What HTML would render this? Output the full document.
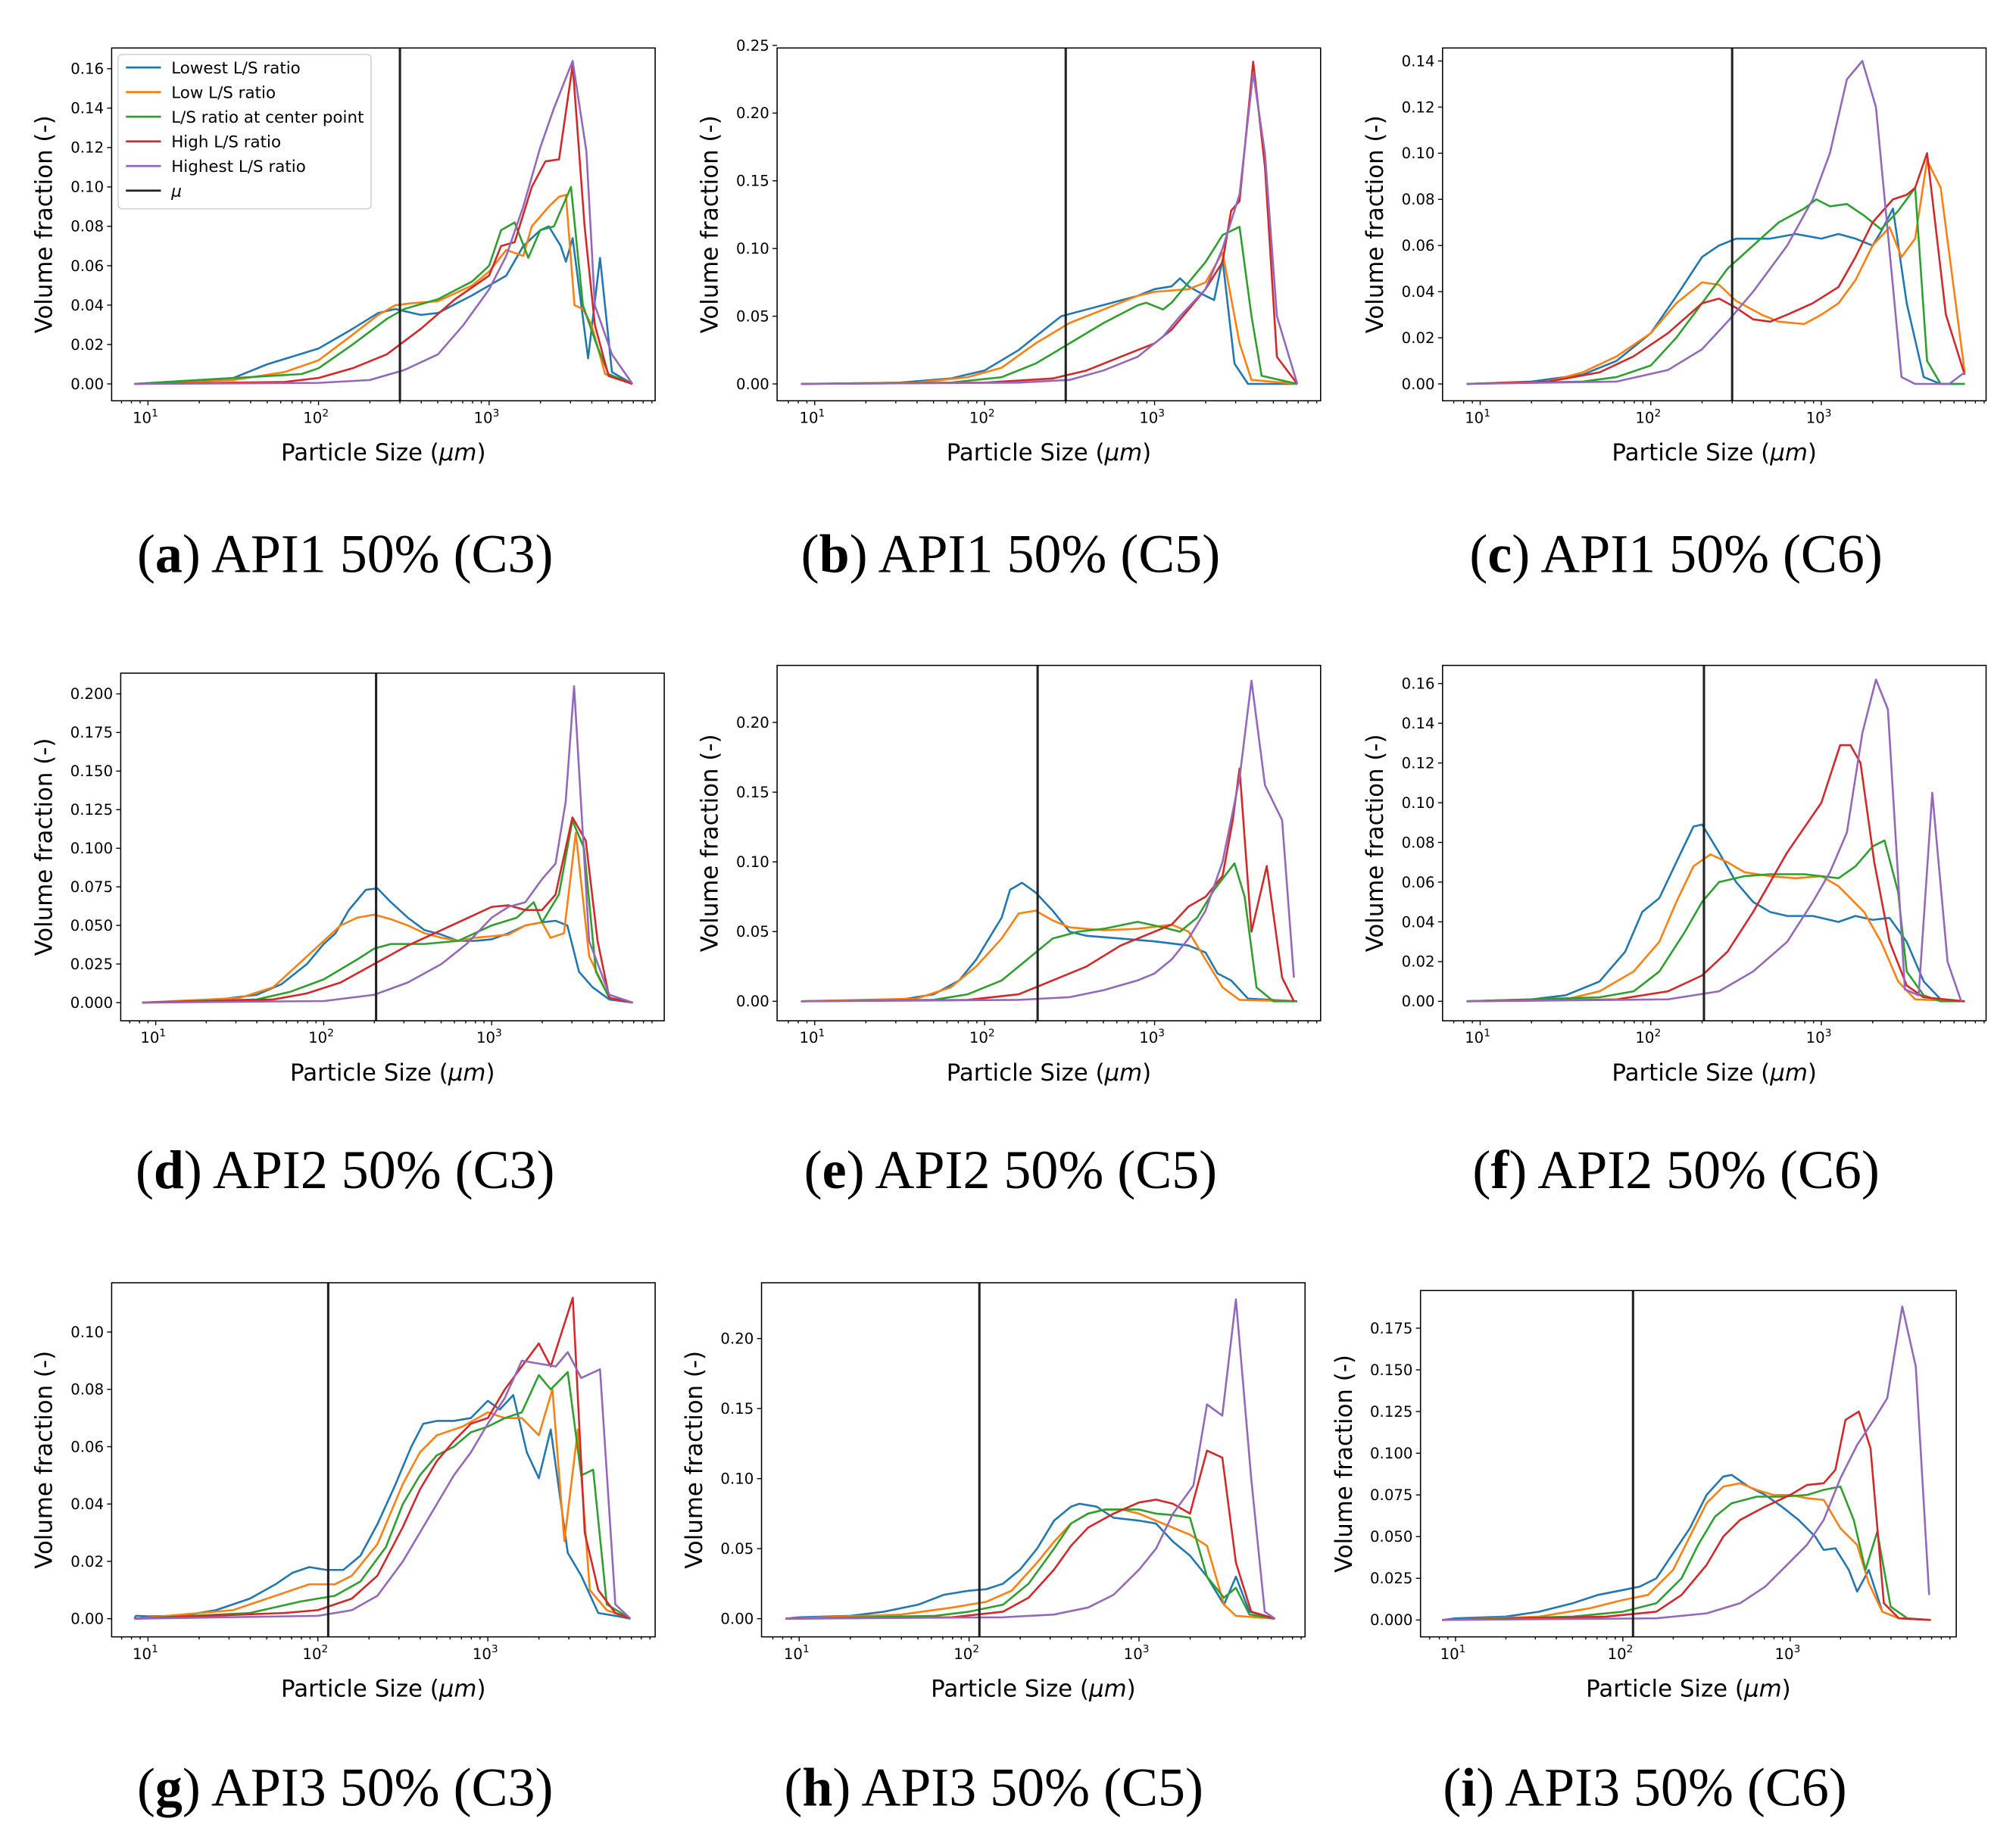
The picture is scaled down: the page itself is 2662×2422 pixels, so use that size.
<!DOCTYPE html>
<html><head><meta charset="utf-8"><style>
html,body{margin:0;padding:0;background:#fff}
svg{display:block}
</style></head><body>
<svg id="fig" xmlns="http://www.w3.org/2000/svg" width="2662" height="2422" viewBox="0 0 1554 1414">
<rect width="1554" height="1414" fill="#fff"/>
</svg>
<script>
// Data: [log10(particle size in µm), volume fraction]
const seriesNames=['Lowest L/S ratio','Low L/S ratio','L/S ratio at center point','High L/S ratio','Highest L/S ratio'];
const muValues={a:300,b:300,c:300,d:205,e:205,f:205,g:115,h:115,i:115};
const captionLetters=['a','b','c','d','e','f','g','h','i'];
const captionTexts=['API1 50% (C3)','API1 50% (C5)','API1 50% (C6)','API2 50% (C3)','API2 50% (C5)','API2 50% (C6)','API3 50% (C3)','API3 50% (C5)','API3 50% (C6)'];
const yTicksA=[0,0.02,0.04,0.06,0.08,0.10,0.12,0.14,0.16];
const yTicksB=[0,0.05,0.10,0.15,0.20,0.25];
const yTicksC=[0,0.02,0.04,0.06,0.08,0.10,0.12,0.14];
const yTicksD=[0,0.025,0.05,0.075,0.1,0.125,0.15,0.175,0.2];
const yTicksE=[0,0.05,0.10,0.15,0.20];
const yTicksF=[0,0.02,0.04,0.06,0.08,0.10,0.12,0.14,0.16];
const yTicksG=[0,0.02,0.04,0.06,0.08,0.10];
const yTicksH=[0,0.05,0.10,0.15,0.20];
const yTicksI=[0,0.025,0.05,0.075,0.1,0.125,0.15,0.175];
const xTickExps=[1,2,3];

const a_blue=[[1.5,0.003],[1.7,0.01],[2.0,0.018],[2.2,0.028],[2.35,0.036],[2.45,0.038],[2.6,0.035],[2.7,0.036],[2.9,0.045],[3.1,0.055],[3.2,0.07],[3.3,0.078],[3.35,0.08],[3.42,0.07],[3.45,0.062],[3.49,0.074],[3.58,0.013],[3.65,0.064],[3.72,0.006],[3.84,0]];
const a_orange=[[1.5,0.002],[1.8,0.006],[2.0,0.012],[2.2,0.025],[2.35,0.035],[2.45,0.04],[2.55,0.041],[2.7,0.042],[2.9,0.05],[3.0,0.057],[3.1,0.068],[3.2,0.065],[3.25,0.08],[3.35,0.09],[3.41,0.095],[3.45,0.096],[3.5,0.04],[3.55,0.038],[3.6,0.03],[3.68,0.005],[3.84,0]];
const a_green=[[1.9,0.005],[2.0,0.008],[2.2,0.02],[2.4,0.033],[2.5,0.038],[2.7,0.043],[2.9,0.052],[3.0,0.06],[3.07,0.078],[3.15,0.082],[3.23,0.064],[3.3,0.078],[3.38,0.08],[3.48,0.1],[3.55,0.04],[3.63,0.02],[3.7,0.005],[3.84,0]];
const a_red=[[1.8,0.001],[2.0,0.003],[2.2,0.008],[2.4,0.015],[2.6,0.028],[2.8,0.043],[3.0,0.055],[3.07,0.07],[3.15,0.072],[3.25,0.1],[3.33,0.113],[3.41,0.114],[3.49,0.162],[3.56,0.08],[3.62,0.03],[3.7,0.004],[3.84,0]];
const a_purple=[[2.0,0.0005],[2.3,0.002],[2.5,0.007],[2.7,0.015],[2.85,0.03],[3.0,0.048],[3.1,0.065],[3.2,0.09],[3.3,0.12],[3.38,0.14],[3.49,0.164],[3.57,0.118],[3.62,0.04],[3.72,0.015],[3.84,0]];

const b_blue=[[1.5,0.001],[1.8,0.004],[2.0,0.01],[2.2,0.025],[2.35,0.04],[2.45,0.05],[2.6,0.055],[2.75,0.06],[2.9,0.065],[3.0,0.07],[3.1,0.072],[3.15,0.078],[3.2,0.072],[3.3,0.065],[3.35,0.062],[3.4,0.092],[3.47,0.015],[3.55,0],[3.84,0]];
const b_orange=[[1.6,0.001],[1.9,0.005],[2.1,0.012],[2.3,0.03],[2.5,0.045],[2.7,0.055],[2.9,0.065],[3.0,0.068],[3.2,0.07],[3.3,0.075],[3.4,0.097],[3.5,0.03],[3.57,0.003],[3.84,0]];
const b_green=[[1.8,0.001],[2.1,0.005],[2.3,0.015],[2.5,0.03],[2.7,0.045],[2.9,0.058],[2.95,0.06],[3.05,0.055],[3.1,0.06],[3.2,0.075],[3.3,0.09],[3.35,0.1],[3.4,0.11],[3.5,0.116],[3.57,0.05],[3.63,0.006],[3.84,0]];
const b_red=[[2.0,0.001],[2.4,0.004],[2.6,0.01],[2.8,0.02],[3.0,0.03],[3.1,0.04],[3.2,0.055],[3.3,0.07],[3.4,0.09],[3.45,0.128],[3.5,0.135],[3.58,0.238],[3.65,0.16],[3.72,0.02],[3.84,0]];
const b_purple=[[2.2,0.001],[2.5,0.003],[2.7,0.01],[2.9,0.02],[3.05,0.035],[3.15,0.05],[3.3,0.07],[3.4,0.1],[3.5,0.14],[3.58,0.23],[3.65,0.17],[3.72,0.05],[3.84,0]];

const c_blue=[[1.3,0.001],[1.6,0.004],[1.8,0.01],[2.0,0.022],[2.15,0.038],[2.3,0.055],[2.4,0.06],[2.5,0.063],[2.6,0.063],[2.7,0.063],[2.85,0.065],[3.0,0.063],[3.1,0.065],[3.2,0.063],[3.3,0.06],[3.35,0.066],[3.42,0.076],[3.5,0.035],[3.6,0.003],[3.7,0],[3.84,0]];
const c_orange=[[1.4,0.001],[1.6,0.005],[1.8,0.012],[2.0,0.022],[2.15,0.035],[2.3,0.044],[2.4,0.043],[2.5,0.036],[2.65,0.03],[2.75,0.027],[2.9,0.026],[3.0,0.03],[3.1,0.035],[3.2,0.045],[3.3,0.06],[3.4,0.068],[3.47,0.055],[3.55,0.063],[3.62,0.097],[3.7,0.085],[3.84,0.005]];
const c_green=[[1.6,0.001],[1.8,0.003],[2.0,0.008],[2.15,0.02],[2.3,0.035],[2.45,0.05],[2.6,0.06],[2.75,0.07],[2.9,0.076],[2.97,0.08],[3.05,0.077],[3.15,0.078],[3.25,0.073],[3.35,0.067],[3.45,0.075],[3.55,0.085],[3.62,0.01],[3.7,0],[3.84,0]];
const c_red=[[1.4,0.001],[1.7,0.005],[1.9,0.012],[2.1,0.022],[2.3,0.035],[2.4,0.037],[2.5,0.033],[2.6,0.028],[2.7,0.027],[2.8,0.03],[2.95,0.035],[3.1,0.042],[3.2,0.055],[3.3,0.07],[3.42,0.08],[3.5,0.082],[3.55,0.085],[3.62,0.1],[3.73,0.03],[3.84,0.004]];
const c_purple=[[1.8,0.001],[2.1,0.006],[2.3,0.015],[2.45,0.027],[2.6,0.04],[2.8,0.06],[2.95,0.08],[3.05,0.1],[3.15,0.132],[3.24,0.14],[3.32,0.12],[3.47,0.003],[3.55,0],[3.75,0],[3.84,0.005]];

const d_blue=[[1.3,0.001],[1.6,0.005],[1.75,0.012],[1.9,0.025],[2.0,0.038],[2.07,0.045],[2.15,0.06],[2.25,0.073],[2.32,0.074],[2.4,0.065],[2.5,0.055],[2.6,0.047],[2.7,0.044],[2.8,0.04],[2.9,0.04],[3.0,0.041],[3.1,0.045],[3.2,0.05],[3.3,0.052],[3.38,0.053],[3.45,0.05],[3.52,0.02],[3.6,0.01],[3.7,0.002],[3.84,0]];
const d_orange=[[1.5,0.003],[1.7,0.01],[1.85,0.025],[2.0,0.04],[2.1,0.05],[2.2,0.055],[2.3,0.057],[2.4,0.054],[2.5,0.05],[2.6,0.045],[2.7,0.042],[2.8,0.04],[2.9,0.042],[3.0,0.043],[3.1,0.044],[3.2,0.05],[3.3,0.052],[3.35,0.042],[3.43,0.045],[3.5,0.11],[3.58,0.03],[3.7,0.003],[3.84,0]];
const d_green=[[1.6,0.002],[1.8,0.007],[2.0,0.015],[2.2,0.028],[2.3,0.035],[2.4,0.038],[2.6,0.038],[2.8,0.04],[2.9,0.045],[3.0,0.05],[3.15,0.055],[3.25,0.065],[3.3,0.052],[3.4,0.07],[3.48,0.118],[3.55,0.1],[3.62,0.02],[3.7,0.003],[3.84,0]];
const d_red=[[1.7,0.002],[1.9,0.006],[2.1,0.013],[2.3,0.025],[2.5,0.037],[2.7,0.047],[2.9,0.057],[3.0,0.062],[3.1,0.063],[3.2,0.06],[3.3,0.06],[3.38,0.07],[3.44,0.1],[3.48,0.12],[3.56,0.105],[3.63,0.04],[3.7,0.003],[3.84,0]];
const d_purple=[[2.0,0.001],[2.3,0.005],[2.5,0.013],[2.7,0.025],[2.85,0.038],[3.0,0.055],[3.1,0.062],[3.2,0.065],[3.3,0.08],[3.38,0.09],[3.44,0.13],[3.49,0.205],[3.58,0.04],[3.7,0.005],[3.84,0]];

const e_blue=[[1.5,0.001],[1.7,0.005],[1.85,0.015],[1.95,0.03],[2.0,0.04],[2.1,0.06],[2.15,0.08],[2.22,0.085],[2.3,0.078],[2.4,0.065],[2.5,0.05],[2.6,0.047],[2.8,0.045],[3.0,0.043],[3.2,0.04],[3.3,0.035],[3.37,0.02],[3.45,0.015],[3.55,0.002],[3.84,0]];
const e_orange=[[1.6,0.002],[1.8,0.01],[1.95,0.025],[2.1,0.045],[2.2,0.063],[2.3,0.065],[2.4,0.058],[2.5,0.053],[2.7,0.051],[2.9,0.052],[3.1,0.055],[3.2,0.05],[3.3,0.03],[3.4,0.01],[3.5,0.001],[3.84,0]];
const e_green=[[1.7,0.001],[1.9,0.005],[2.1,0.015],[2.25,0.03],[2.4,0.045],[2.55,0.05],[2.7,0.052],[2.9,0.057],[3.05,0.053],[3.15,0.05],[3.25,0.06],[3.35,0.08],[3.47,0.099],[3.53,0.075],[3.6,0.01],[3.7,0],[3.84,0]];
const e_red=[[1.9,0.001],[2.2,0.005],[2.4,0.015],[2.6,0.025],[2.8,0.04],[3.0,0.05],[3.1,0.055],[3.2,0.068],[3.3,0.075],[3.4,0.09],[3.46,0.13],[3.5,0.167],[3.57,0.05],[3.66,0.097],[3.75,0.017],[3.82,0]];
const e_purple=[[2.2,0.001],[2.5,0.003],[2.7,0.008],[2.9,0.015],[3.0,0.02],[3.1,0.03],[3.2,0.045],[3.3,0.065],[3.4,0.1],[3.5,0.16],[3.57,0.23],[3.65,0.155],[3.75,0.13],[3.82,0.017]];

const f_blue=[[1.3,0.001],[1.5,0.003],[1.7,0.01],[1.85,0.025],[1.95,0.045],[2.05,0.052],[2.15,0.07],[2.25,0.088],[2.3,0.089],[2.4,0.075],[2.5,0.06],[2.6,0.05],[2.7,0.045],[2.8,0.043],[2.95,0.043],[3.1,0.04],[3.2,0.043],[3.3,0.041],[3.4,0.042],[3.5,0.03],[3.6,0.01],[3.7,0.001],[3.84,0]];
const f_orange=[[1.5,0.001],[1.7,0.005],[1.9,0.015],[2.05,0.03],[2.15,0.05],[2.25,0.068],[2.35,0.074],[2.45,0.07],[2.55,0.065],[2.7,0.063],[2.85,0.062],[3.0,0.063],[3.1,0.058],[3.25,0.045],[3.35,0.03],[3.45,0.01],[3.55,0.001],[3.84,0]];
const f_green=[[1.7,0.002],[1.9,0.005],[2.05,0.015],[2.2,0.035],[2.3,0.05],[2.4,0.06],[2.55,0.063],[2.7,0.064],[2.9,0.064],[3.1,0.062],[3.2,0.068],[3.3,0.078],[3.37,0.081],[3.45,0.055],[3.5,0.015],[3.6,0.003],[3.7,0],[3.84,0]];
const f_red=[[1.8,0.001],[2.1,0.005],[2.3,0.013],[2.45,0.025],[2.6,0.045],[2.8,0.075],[3.0,0.1],[3.11,0.129],[3.17,0.129],[3.23,0.12],[3.31,0.07],[3.4,0.03],[3.5,0.008],[3.6,0.002],[3.84,0]];
const f_purple=[[2.1,0.001],[2.4,0.005],[2.6,0.015],[2.8,0.03],[2.95,0.05],[3.05,0.065],[3.15,0.085],[3.24,0.135],[3.32,0.162],[3.39,0.147],[3.49,0.006],[3.57,0.003],[3.65,0.105],[3.74,0.02],[3.82,0]];

const g_blue=[[0.93,0.001],[1.0,0.0008],[1.2,0.001],[1.4,0.003],[1.6,0.007],[1.75,0.012],[1.85,0.016],[1.95,0.018],[2.05,0.017],[2.15,0.017],[2.25,0.022],[2.35,0.033],[2.45,0.046],[2.55,0.06],[2.62,0.068],[2.7,0.069],[2.8,0.069],[2.9,0.07],[3.0,0.076],[3.07,0.073],[3.15,0.078],[3.23,0.058],[3.3,0.049],[3.37,0.066],[3.47,0.023],[3.55,0.015],[3.65,0.002],[3.75,0.001],[3.84,0]];
const g_orange=[[1.5,0.003],[1.75,0.008],[1.95,0.012],[2.1,0.012],[2.2,0.015],[2.35,0.026],[2.5,0.047],[2.6,0.058],[2.7,0.064],[2.85,0.067],[3.0,0.072],[3.1,0.07],[3.2,0.07],[3.3,0.064],[3.38,0.08],[3.45,0.027],[3.53,0.066],[3.6,0.01],[3.7,0.003],[3.84,0]];
const g_green=[[1.6,0.002],[1.9,0.006],[2.1,0.008],[2.25,0.013],[2.4,0.025],[2.5,0.04],[2.6,0.05],[2.7,0.057],[2.8,0.06],[2.9,0.065],[3.0,0.067],[3.1,0.07],[3.2,0.072],[3.3,0.085],[3.37,0.08],[3.47,0.086],[3.55,0.05],[3.62,0.052],[3.7,0.005],[3.84,0]];
const g_red=[[1.8,0.002],[2.0,0.003],[2.2,0.007],[2.35,0.015],[2.5,0.032],[2.6,0.045],[2.7,0.055],[2.8,0.062],[2.9,0.068],[3.0,0.07],[3.1,0.08],[3.2,0.088],[3.3,0.096],[3.37,0.088],[3.5,0.112],[3.57,0.03],[3.65,0.01],[3.75,0.002],[3.84,0]];
const g_purple=[[2.0,0.001],[2.2,0.003],[2.35,0.008],[2.5,0.02],[2.6,0.03],[2.7,0.04],[2.8,0.05],[2.9,0.058],[3.0,0.068],[3.1,0.077],[3.2,0.09],[3.3,0.089],[3.4,0.088],[3.47,0.093],[3.55,0.084],[3.66,0.087],[3.75,0.005],[3.84,0]];

const h_blue=[[1.0,0.001],[1.3,0.002],[1.5,0.005],[1.7,0.01],[1.85,0.017],[2.0,0.02],[2.1,0.021],[2.2,0.025],[2.3,0.035],[2.4,0.05],[2.5,0.07],[2.6,0.08],[2.65,0.082],[2.75,0.08],[2.85,0.072],[3.0,0.07],[3.1,0.068],[3.2,0.055],[3.3,0.045],[3.4,0.03],[3.5,0.01],[3.57,0.03],[3.65,0.005],[3.8,0]];
const h_orange=[[1.6,0.003],[1.9,0.008],[2.1,0.012],[2.25,0.02],[2.4,0.04],[2.5,0.055],[2.6,0.068],[2.7,0.075],[2.8,0.078],[2.9,0.078],[3.0,0.075],[3.1,0.07],[3.2,0.065],[3.3,0.06],[3.4,0.052],[3.5,0.01],[3.57,0.002],[3.8,0]];
const h_green=[[1.8,0.002],[2.0,0.005],[2.2,0.01],[2.35,0.025],[2.5,0.05],[2.6,0.068],[2.7,0.075],[2.8,0.078],[3.0,0.078],[3.1,0.075],[3.2,0.074],[3.3,0.072],[3.4,0.03],[3.5,0.015],[3.57,0.022],[3.65,0.003],[3.8,0]];
const h_red=[[1.9,0.001],[2.2,0.005],[2.35,0.015],[2.5,0.035],[2.6,0.052],[2.7,0.065],[2.85,0.075],[3.0,0.083],[3.1,0.085],[3.2,0.082],[3.3,0.075],[3.4,0.12],[3.49,0.115],[3.57,0.04],[3.66,0.005],[3.8,0]];
const h_purple=[[2.2,0.001],[2.5,0.003],[2.7,0.008],[2.85,0.017],[3.0,0.035],[3.1,0.05],[3.2,0.075],[3.32,0.095],[3.4,0.153],[3.49,0.145],[3.57,0.228],[3.66,0.1],[3.74,0.005],[3.8,0]];

const i_blue=[[1.0,0.001],[1.3,0.002],[1.5,0.005],[1.7,0.01],[1.85,0.015],[2.0,0.018],[2.1,0.02],[2.2,0.025],[2.3,0.04],[2.4,0.055],[2.5,0.075],[2.6,0.086],[2.65,0.087],[2.75,0.08],[2.85,0.075],[2.95,0.068],[3.05,0.06],[3.15,0.05],[3.2,0.042],[3.27,0.043],[3.35,0.03],[3.4,0.017],[3.47,0.03],[3.55,0.005],[3.65,0.001],[3.84,0]];
const i_orange=[[1.5,0.002],[1.8,0.007],[2.0,0.012],[2.15,0.015],[2.3,0.03],[2.4,0.05],[2.5,0.07],[2.6,0.08],[2.7,0.082],[2.8,0.078],[2.9,0.075],[3.0,0.075],[3.1,0.073],[3.2,0.072],[3.3,0.055],[3.4,0.045],[3.47,0.022],[3.55,0.005],[3.65,0.001],[3.84,0]];
const i_green=[[1.7,0.002],[2.0,0.005],[2.2,0.01],[2.35,0.025],[2.45,0.045],[2.55,0.062],[2.65,0.07],[2.8,0.074],[2.95,0.074],[3.1,0.075],[3.2,0.078],[3.3,0.08],[3.38,0.06],[3.45,0.03],[3.52,0.053],[3.6,0.008],[3.7,0.001],[3.84,0]];
const i_red=[[1.9,0.002],[2.2,0.005],[2.35,0.015],[2.5,0.033],[2.6,0.05],[2.7,0.06],[2.85,0.068],[3.0,0.075],[3.1,0.081],[3.2,0.082],[3.27,0.09],[3.33,0.12],[3.41,0.125],[3.48,0.103],[3.56,0.01],[3.65,0.001],[3.84,0]];
const i_purple=[[2.2,0.001],[2.5,0.004],[2.7,0.01],[2.85,0.02],[3.0,0.035],[3.1,0.045],[3.2,0.06],[3.3,0.085],[3.4,0.105],[3.5,0.12],[3.58,0.133],[3.67,0.188],[3.75,0.152],[3.83,0.015]];

const panelSeries={a:[a_blue,a_orange,a_green,a_red,a_purple],b:[b_blue,b_orange,b_green,b_red,b_purple],c:[c_blue,c_orange,c_green,c_red,c_purple],d:[d_blue,d_orange,d_green,d_red,d_purple],e:[e_blue,e_orange,e_green,e_red,e_purple],f:[f_blue,f_orange,f_green,f_red,f_purple],g:[g_blue,g_orange,g_green,g_red,g_purple],h:[h_blue,h_orange,h_green,h_red,h_purple],i:[i_blue,i_orange,i_green,i_red,i_purple]};

// Layout (pixels in 1554x1414 space)
const COLORS=['#1f77b4','#ff7f0e','#2ca02c','#d62728','#9467bd'];
const layout={
 a:{box:[86,37,505,309],x1:114,dec:131.5,y0:296,yTopPx:53,yTopVal:0.16,ticks:yTicksA,dig:2,ytx:40,cap:[266,433]},
 b:{box:[599,37,1018,309],x1:628,dec:131,y0:296,yTopPx:35,yTopVal:0.25,ticks:yTicksB,dig:2,ytx:553,cap:[779,433]},
 c:{box:[1112,37,1531,309],x1:1141,dec:131.5,y0:296,yTopPx:47,yTopVal:0.14,ticks:yTicksC,dig:2,ytx:1066,cap:[1292,433]},
 d:{box:[93,519,512,787],x1:120,dec:129.5,y0:773,yTopPx:535,yTopVal:0.2,ticks:yTicksD,dig:3,ytx:40,cap:[266,908]},
 e:{box:[599,513,1018,787],x1:628,dec:131,y0:772,yTopPx:557,yTopVal:0.2,ticks:yTicksE,dig:2,ytx:553,cap:[779,908]},
 f:{box:[1112,513,1531,787],x1:1141,dec:131.5,y0:772,yTopPx:527,yTopVal:0.16,ticks:yTicksF,dig:2,ytx:1066,cap:[1292,908]},
 g:{box:[86,989,505,1262],x1:114,dec:131,y0:1248,yTopPx:1027,yTopVal:0.1,ticks:yTicksG,dig:2,ytx:40,cap:[266,1384]},
 h:{box:[587,989,1006,1262],x1:616,dec:131,y0:1248,yTopPx:1032,yTopVal:0.2,ticks:yTicksH,dig:2,ytx:541,cap:[766,1384]},
 i:{box:[1095,995,1508,1262],x1:1122,dec:129,y0:1249,yTopPx:1024,yTopVal:0.175,ticks:yTicksI,dig:3,ytx:1042,cap:[1268,1384]}
};
const NS='http://www.w3.org/2000/svg';
const svg=document.getElementById('fig');
function mk(tag,attrs,parent){const e=document.createElementNS(NS,tag);for(const k in attrs)e.setAttribute(k,attrs[k]);(parent||svg).appendChild(e);return e;}
const FONT='"DejaVu Sans","Liberation Sans",sans-serif';
const keys=['a','b','c','d','e','f','g','h','i'];
keys.forEach((k,pi)=>{
 const L=layout[k];
 const xs=lg=>L.x1+(lg-1)*L.dec;
 const ys=v=>L.y0-(v/L.yTopVal)*(L.y0-L.yTopPx);
 const [bx0,by0,bx1,by1]=L.box;
 const g=mk('g',{});
 
 
 panelSeries[k].forEach((s,si)=>{
   const pts=[[0.92,0]].concat(s);
   const d=pts.map((p,j)=>(j?'L':'M')+xs(p[0]).toFixed(1)+','+ys(p[1]).toFixed(1)).join('');
   const path=mk('path',{d:d,fill:'none',stroke:COLORS[si],'stroke-width':1.5,'stroke-linejoin':'round'},g);
   
   
 });
 const mx=xs(Math.log10(muValues[k]));
 const ml=mk('line',{x1:mx,x2:mx,y1:by0,y2:by1,stroke:'#222','stroke-width':1.8},g);
 
 
 const fr=mk('rect',{x:bx0,y:by0,width:bx1-bx0,height:by1-by0,fill:'none',stroke:'#000','stroke-width':0.9},g);
 
 
 L.ticks.forEach(t=>{
   const y=ys(t);
   mk('line',{x1:bx0-3.5,x2:bx0,y1:y,y2:y,stroke:'#000','stroke-width':0.8},g);
   const tx=mk('text',{x:bx0-6,y:y+4,'text-anchor':'end','font-size':11.5,'font-family':FONT,fill:'#000'},g);
   tx.textContent=t.toFixed(L.dig);
   
   
 });
 for(let e=0;e<=3;e++){for(let m=1;m<=9;m++){
   const lg=e+Math.log10(m);const x=xs(lg);
   if(x<bx0||x>bx1)continue;
   mk('line',{x1:x,x2:x,y1:by1,y2:by1+(m===1?3.5:2),stroke:'#000','stroke-width':0.8},g);
 }}
 xTickExps.forEach(e=>{
   const x=xs(e);
   const tx=mk('text',{x:x-2,y:by1+17,'text-anchor':'middle','font-size':11.5,'font-family':FONT,fill:'#000'},g);
   tx.textContent='10';
   
   
   const sup=mk('tspan',{'font-size':8,dy:-5},tx);sup.textContent=String(e);
 });
 const cx=(bx0+bx1)/2;
 const xt=mk('text',{x:cx,y:by1+46,'text-anchor':'middle','font-size':18,'font-family':FONT,fill:'#000'},g);
 
 
 xt.appendChild(document.createTextNode('Particle Size ('));
 const mu=mk('tspan',{'font-style':'italic'},xt);mu.textContent='μm';
 xt.appendChild(document.createTextNode(')'));
 const cy=(by0+by1)/2;
 const yt=mk('text',{x:L.ytx,y:cy,'text-anchor':'middle','font-size':18,'font-family':FONT,fill:'#000',transform:'rotate(-90 '+L.ytx+' '+cy+')'},g);
 yt.textContent='Volume fraction (-)';
 
 
 const cp=mk('text',{x:L.cap[0],y:L.cap[1]+8,'text-anchor':'middle','font-size':42,'font-family':'"Liberation Serif",serif',fill:'#000'},svg);
 
 
 cp.appendChild(document.createTextNode('('));
 const b=mk('tspan',{'font-weight':'bold'},cp);b.textContent=captionLetters[pi];
 cp.appendChild(document.createTextNode(') '+captionTexts[pi]));
});
const lg=mk('g',{});


mk('rect',{x:91,y:42,width:195,height:119,rx:3,fill:'#fff','fill-opacity':0.85,stroke:'#ccc','stroke-width':0.8},lg);
const legLabels=seriesNames.concat(['μ']);
legLabels.forEach((n,j)=>{
 const y=52+j*19;
 mk('line',{x1:97,x2:124,y1:y,y2:y,stroke:j<5?COLORS[j]:'#222','stroke-width':1.6},lg);
 const t=mk('text',{x:132,y:y+4.5,'font-size':12.5,'font-family':FONT,fill:'#000','font-style':j===5?'italic':'normal'},lg);
 t.textContent=n;
 
 
});
</script>
</body></html>
